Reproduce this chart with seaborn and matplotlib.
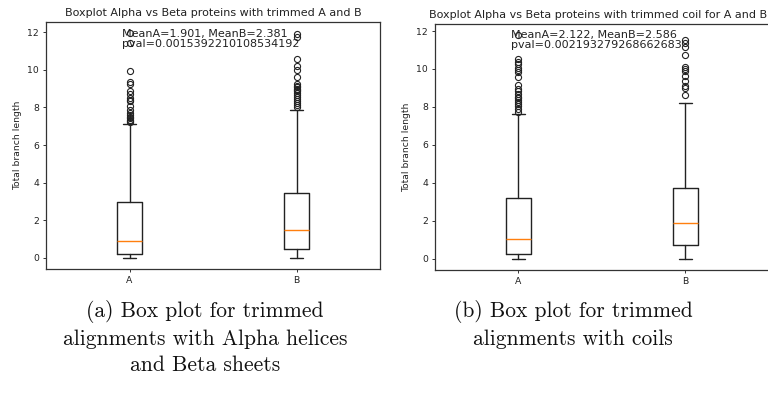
import matplotlib
matplotlib.use("Agg")
import matplotlib.pyplot as plt
import seaborn as sns

# ---- data ----
groups = ["A", "B"]

# panel (a)
a_whislo = [0.0, 0.0]
a_q1 = [0.21, 0.46]
a_med = [0.88, 1.46]
a_q3 = [2.98, 3.45]
a_whishi = [7.10, 7.86]
a_fliers_A = [11.95, 11.45, 9.92, 9.35, 9.27, 8.88, 8.70, 8.50, 8.40, 8.35,
              8.10, 7.85, 7.70, 7.60, 7.50, 7.42, 7.35, 7.28, 7.22]
a_fliers_B = [11.90, 11.77, 10.57, 10.22, 9.97, 9.60, 9.27, 9.15, 9.10, 9.00,
              8.92, 8.85, 8.75, 8.65, 8.55, 8.45, 8.35, 8.25, 8.15, 8.05]

# panel (b)
b_whislo = [0.0, 0.0]
b_q1 = [0.28, 0.72]
b_med = [1.03, 1.90]
b_q3 = [3.21, 3.75]
b_whishi = [7.62, 8.22]
b_fliers_A = [11.78, 10.50, 10.38, 10.25, 10.05, 9.95, 9.85, 9.60, 9.15, 8.95,
              8.85, 8.70, 8.55, 8.45, 8.35, 8.25, 8.15, 8.05, 7.90, 7.75]
b_fliers_B = [11.53, 11.38, 11.15, 10.73, 10.12, 10.00, 9.90, 9.65, 9.38, 9.10,
              8.98, 8.63]

titles = ["Boxplot Alpha vs Beta proteins with trimmed A and B",
          "Boxplot Alpha vs Beta proteins with trimmed coil for A and B"]
annotations = ["MeanA=1.901, MeanB=2.381\npval=0.0015392210108534192",
               "MeanA=2.122, MeanB=2.586\npval=0.002193279268662683"]
ylabel = "Total branch length"
captions = ["(a) Box plot for trimmed\nalignments with Alpha helices\nand Beta sheets",
            "(b) Box plot for trimmed\nalignments with coils"]

# ---- style ----
sns.set_theme(style="ticks")
plt.rcParams.update({
    "font.family": ["DejaVu Sans"],
    "axes.edgecolor": "#333333",
    "axes.linewidth": 0.9,
    "text.color": "#222222",
    "axes.labelcolor": "#222222",
    "xtick.color": "#333333",
    "ytick.color": "#333333",
    "xtick.labelcolor": "#222222",
    "ytick.labelcolor": "#222222",
    "xtick.major.size": 2.4,
    "ytick.major.size": 2.4,
    "xtick.major.width": 0.7,
    "ytick.major.width": 0.7,
})

fig = plt.figure(figsize=(7.68, 3.97), dpi=100)
axes = [fig.add_axes([0.0599, 0.3224, 0.4349, 0.6222]),
        fig.add_axes([0.5664, 0.3199, 0.4349, 0.6196])]


def build_stats(whislo, q1, med, q3, whishi, fliers):
    out = []
    for i, g in enumerate(groups):
        out.append(dict(label=g, whislo=whislo[i], q1=q1[i], med=med[i],
                        q3=q3[i], whishi=whishi[i], fliers=fliers[i]))
    return out


panel_stats = [
    build_stats(a_whislo, a_q1, a_med, a_q3, a_whishi, [a_fliers_A, a_fliers_B]),
    build_stats(b_whislo, b_q1, b_med, b_q3, b_whishi, [b_fliers_A, b_fliers_B]),
]
text_y = [12.17, 12.05]
title_x = [0.5, 0.487]

lw = 1.0
for ax, st, title, ann, ty, tx in zip(axes, panel_stats, titles, annotations,
                                      text_y, title_x):
    ax.bxp(st, positions=[1, 2], widths=0.15,
           boxprops=dict(color="#222222", linewidth=lw),
           whiskerprops=dict(color="#222222", linewidth=lw),
           capprops=dict(color="#222222", linewidth=lw),
           medianprops=dict(color="#ff7f0e", linewidth=lw),
           flierprops=dict(marker="o", markerfacecolor="none",
                           markeredgecolor="#222222", markersize=4.4,
                           markeredgewidth=0.8))
    ax.set_xlim(0.5, 2.5)
    ax.set_yticks([0, 2, 4, 6, 8, 10, 12])
    ax.tick_params(labelsize=6.7, pad=2.5)
    ax.set_ylabel(ylabel, fontsize=6.7, labelpad=4)
    ax.set_title(title, fontsize=8, pad=4, x=tx)
    ax.text(0.955, ty, ann, fontsize=8, ha="left", va="top",
            linespacing=1.0)

caption_x = [0.267, 0.746]
for cx, cap in zip(caption_x, captions):
    fig.text(cx, 0.245, cap, ha="center", va="top", fontsize=15.5,
             family=["cmr10", "DejaVu Serif"], linespacing=1.42,
             color="#111111")

fig.savefig("out.png", dpi=100)
